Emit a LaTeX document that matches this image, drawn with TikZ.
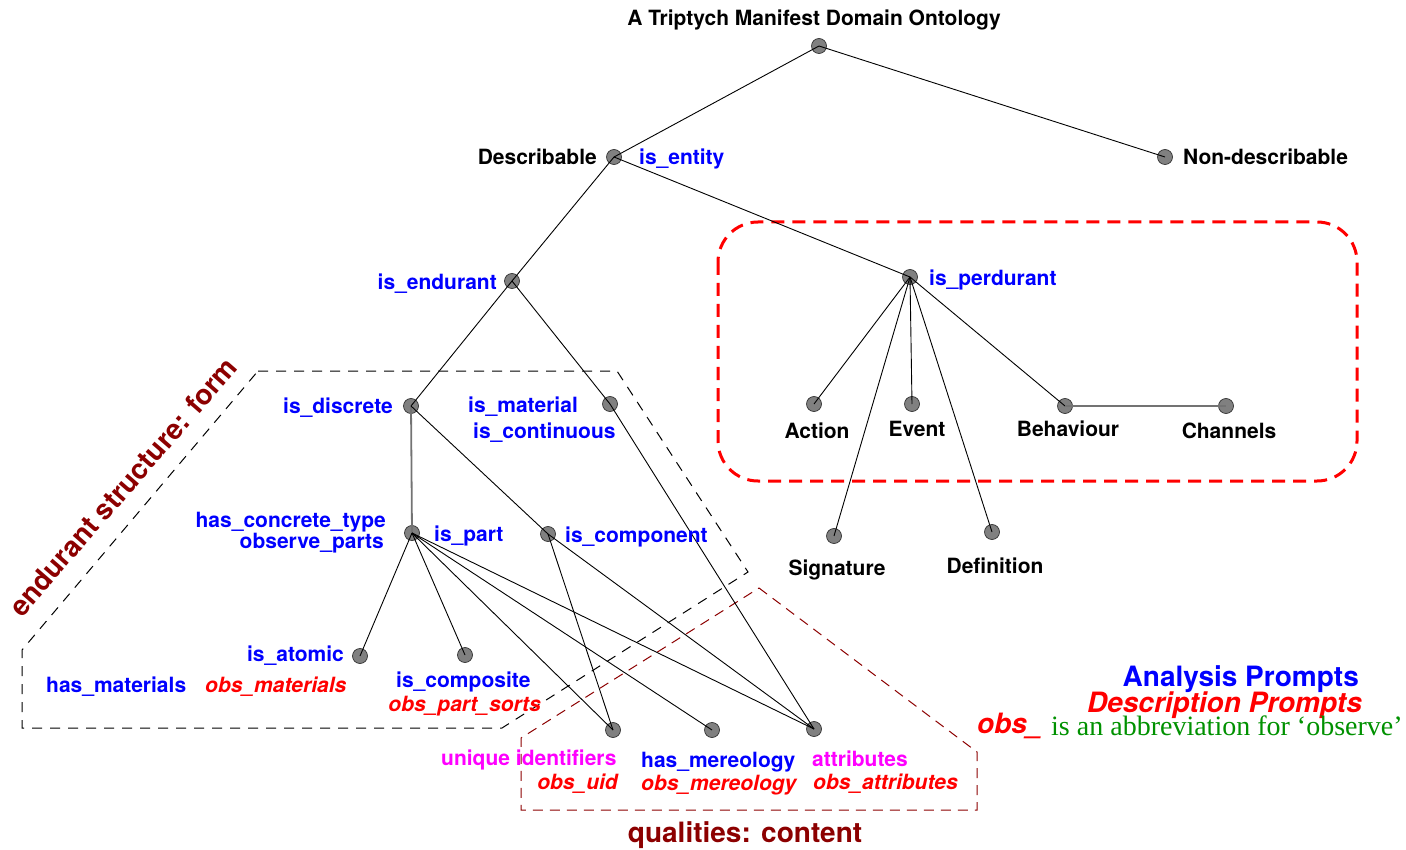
\documentclass[tikz,border=0pt]{standalone}
\usepackage{fontspec}
\setmainfont{TeX Gyre Heros}
\newfontfamily\prosefont{Liberation Serif}
\definecolor{maroonc}{RGB}{140,0,0}
\definecolor{greenc}{RGB}{0,145,0}
\definecolor{pinkc}{RGB}{255,0,255}
\definecolor{bluec}{RGB}{0,0,255}
\definecolor{redc}{RGB}{255,0,0}
\begin{document}
\begin{tikzpicture}[x=1pt,y=-1pt,
  dot/.style={circle, draw=black!80, fill=black!50, line width=0.7pt, minimum size=15pt, inner sep=0pt},
  lbl/.style={font=\fontsize{21}{24}\selectfont\bfseries, inner sep=0pt},
  ana/.style={lbl, text=bluec},
  desc/.style={font=\fontsize{21}{24}\selectfont\bfseries\itshape, inner sep=0pt, text=redc},
  qual/.style={lbl, text=pinkc},
  big/.style={font=\fontsize{28}{32}\selectfont\bfseries, inner sep=0pt},
  bigit/.style={font=\fontsize{28}{32}\selectfont\bfseries\itshape, inner sep=0pt},
  edge/.style={draw=black, line width=0.9pt},
  softedge/.style={draw=black!55, line width=1.8pt},
  formbox/.style={draw=black, line width=1pt, dash pattern=on 10pt off 8pt},
  contentbox/.style={draw=maroonc, line width=1pt, dash pattern=on 10pt off 7pt},
  perdbox/.style={draw=redc, line width=3pt, dash pattern=on 13pt off 8pt, rounded corners=40pt},
]
\useasboundingbox (0,0) rectangle (1406,850);

% grouping regions
\draw[perdbox] (718,222) rectangle (1357,481);
\draw[formbox] (258,371) -- (617,371) -- (748,572) -- (502,728) -- (22,728) -- (22,650) -- cycle;
\draw[contentbox] (759,588) -- (977,752) -- (977,810) -- (521,810) -- (521,738) -- cycle;

% tree nodes
\node[dot] (root) at (819,46) {};
\node[dot] (dsc)  at (614,157) {};
\node[dot] (ndsc) at (1165,157) {};
\node[dot] (endu) at (512,281) {};
\node[dot] (perd) at (910,277) {};
\node[dot] (disc) at (411,406) {};
\node[dot] (matl) at (610,404) {};
\node[dot] (part) at (412,533) {};
\node[dot] (comp) at (548,534) {};
\node[dot] (atom) at (360,656) {};
\node[dot] (cmps) at (465,655) {};
\node[dot] (uid)  at (613,730) {};
\node[dot] (mer)  at (712,730) {};
\node[dot] (attr) at (814,729) {};
\node[dot] (act)  at (814,404) {};
\node[dot] (evt)  at (912,404) {};
\node[dot] (beh)  at (1065,406) {};
\node[dot] (chan) at (1226,406) {};
\node[dot] (sig)  at (834,536) {};
\node[dot] (dfn)  at (992,532) {};

% connectors
\draw[edge] (root.center) -- (dsc.center);
\draw[edge] (root.center) -- (ndsc.center);
\draw[edge] (dsc.center) -- (endu.center);
\draw[edge] (dsc.center) -- (perd.center);
\draw[edge] (endu.center) -- (disc.center);
\draw[edge] (endu.center) -- (matl.center);
\draw[softedge] (disc.center) -- (part.center);
\draw[edge] (disc.center) -- (comp.center);
\draw[edge] (matl.center) -- (attr.center);
\draw[edge] (part.center) -- (atom.center);
\draw[edge] (part.center) -- (cmps.center);
\draw[edge] (part.center) -- (uid.center);
\draw[edge] (part.center) -- (mer.center);
\draw[edge] (part.center) -- (attr.center);
\draw[edge] (comp.center) -- (uid.center);
\draw[edge] (comp.center) -- (attr.center);
\draw[edge] (perd.center) -- (act.center);
\draw[edge] (perd.center) -- (evt.center);
\draw[edge] (perd.center) -- (beh.center);
\draw[edge] (perd.center) -- (sig.center);
\draw[edge] (perd.center) -- (dfn.center);
\draw[softedge] (beh.center) -- (chan.center);

% texts
\node[lbl, anchor=base] (tTitle) at (814,26) {A Triptych Manifest Domain Ontology};
\node[lbl, anchor=base east] (tDsc) at (597,165) {Describable};
\node[ana, anchor=base west] (tEnt) at (639,165) {is\_entity};
\node[lbl, anchor=base west] (tNdsc) at (1183,165) {Non-describable};
\node[ana, anchor=base east] (tEndu) at (497,290) {is\_endurant};
\node[ana, anchor=base west] (tPerd) at (929,286) {is\_perdurant};
\node[lbl, anchor=base] (tAct) at (817,438) {Action};
\node[lbl, anchor=base] (tEvt) at (917,436) {Event};
\node[lbl, anchor=base] (tBeh) at (1068,436) {Behaviour};
\node[lbl, anchor=base] (tChan) at (1229,438) {Channels};
\node[lbl, anchor=base] (tSig) at (837,575) {Signature};
\node[lbl, anchor=base] (tDfn) at (995,573) {Definition};
\node[ana, anchor=base east] (tDisc) at (393,413) {is\_discrete};
\node[ana, anchor=base west] (tMatl) at (468,412) {is\_material};
\node[ana, anchor=base west] (tCont) at (473,438) {is\_continuous};
\node[ana, anchor=base east] (tHct) at (386,527) {has\_concrete\_type};
\node[ana, anchor=base east] (tObp) at (384,548) {observe\_parts};
\node[ana, anchor=base west] (tPart) at (434,541) {is\_part};
\node[ana, anchor=base west] (tComp) at (565,542) {is\_component};
\node[ana, anchor=base east] (tAtom) at (344,661) {is\_atomic};
\node[ana, anchor=base west] (tHmat) at (46,692) {has\_materials};
\node[desc, anchor=base west] (tOmat) at (205,692) {obs\_materials};
\node[ana, anchor=base west] (tCmps) at (396,687) {is\_composite};
\node[desc, anchor=base east] (tOps) at (541,711) {obs\_part\_sorts};
\node[qual, anchor=base west] (tUid) at (441,765) {unique identifiers};
\node[desc, anchor=base east] (tOuid) at (618,789) {obs\_uid};
\node[ana, anchor=base west] (tMer) at (641,767) {has\_mereology};
\node[desc, anchor=base west] (tOmer) at (641,790) {obs\_mereology};
\node[qual, anchor=base west] (tAttr) at (812,766) {attributes};
\node[desc, anchor=base west] (tOattr) at (813,789) {obs\_attributes};

% legend
\node[big, text=bluec, anchor=base east] (tAna) at (1359,686) {Analysis Prompts};
\node[bigit, text=redc, anchor=base east] (tDes) at (1362,712) {Description Prompts};
\node[bigit, text=redc, anchor=base west] (tObs) at (977,733) {obs\_};
\node[anchor=base west, inner sep=0pt, text=greenc, font=\prosefont\fontsize{28}{32}\selectfont] (tAbbr) at (1051,735) {is an abbreviation for ‘observe’};

% region captions
\node[big, text=maroonc, anchor=base] (tQual) at (745,842) {qualities: content};
\node[big, text=maroonc, rotate=49] (tForm) at (123,487) {endurant structure: form};
\end{tikzpicture}
\end{document}
